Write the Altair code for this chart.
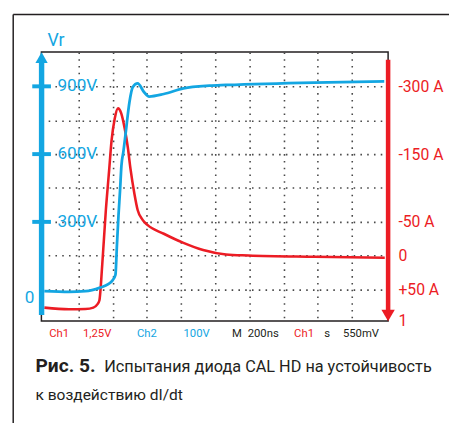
import altair as alt
import pandas as pd

# ---- data (time in ns, 200 ns/div) ----
blue_t = [0, 144, 241, 326, 374, 397, 416, 425, 434, 443, 451, 463, 475, 498, 517,
          546, 584, 613, 699, 814, 966, 1063, 1580, 1989]
blue_v = [-7, -10, -7, 9, 24, 39, 65, 200, 330, 439, 548, 613, 687, 830, 896,
          913, 874, 855, 866, 891, 903, 906, 917, 922]

red_t = [0, 144, 240, 287, 310, 322, 339, 360, 379, 393, 412, 431, 450, 470, 489,
         504, 527, 546, 575, 603, 699, 814, 929, 1063, 1195, 1580, 1992]
red_div = [0.47, 0.42, 0.43, 0.47, 0.565, 0.68, 1.75, 3.35, 4.51, 5.38, 6.05, 6.35,
           6.20, 5.76, 5.18, 4.57, 3.83, 3.35, 3.06, 2.91, 2.65, 2.38, 2.17, 2.04,
           2.01, 1.97, 1.94]

grid_t = [200, 400, 600, 800, 1000, 1200, 1400, 1600, 1800]
grid_v = [0, 150, 300, 450, 600, 750, 900]
blue_tick_v = [300, 600, 900]
blue_tick_labels = ["300V", "600V", "900V"]
blue_zero_label = ["0"]
red_tick_vals = [0.0725, 1, 2, 3, 5, 7]
red_tick_labels = ["1", "+50 A", "0", "-50 A", "-150 A", "-300 A"]

status_texts = ["Ch1", "1,25V", "Ch2", "100V", "M", "200ns", "Ch1", "s", "550mV"]
axis_title = "Vr"
caption_bold = "Рис. 5."
caption_rest = "Испытания диода CAL HD на устойчивость"
caption_line2 = "к воздействию dI/dt"

# ---- styles ----
BLUE = "#13a6e2"
RED = "#ec1c24"
DARK = "#231f20"
FONT = "Roboto"
W, H = 353, 274
X_DOMAIN = [-17.2, 2011.5]
BLUE_DOMAIN = [-139.2, 1052.2]
RED_DOMAIN = [0.0725, 8.0145]

xs = alt.Scale(domain=X_DOMAIN, nice=False, zero=False)
bys = alt.Scale(domain=BLUE_DOMAIN, nice=False, zero=False)
rys = alt.Scale(domain=RED_DOMAIN, nice=False, zero=False)

grid_style = dict(gridColor="#4a4a4a", gridDash=[1.6, 5.3], gridWidth=1.6, gridOpacity=1)
x_axis = alt.Axis(orient="bottom", values=grid_t, grid=True, labels=False, ticks=False,
                  domain=False, title=None, **grid_style)

red_expr = " : ".join(f"datum.value == {v} ? '{l}'" for v, l in zip(red_tick_vals, red_tick_labels)) + " : ''"

blue_df = pd.DataFrame({"t": blue_t, "v": blue_v})
red_df = pd.DataFrame({"t": red_t, "d": red_div})

red_line = alt.Chart(red_df).mark_line(color=RED, strokeWidth=2.6, interpolate="monotone").encode(
    x=alt.X("t:Q", scale=xs, axis=x_axis),
    y=alt.Y("d:Q", scale=rys, axis=alt.Axis(
        orient="right", values=red_tick_vals, grid=False, ticks=False, domain=False, title=None,
        labelExpr=red_expr, labelColor=RED, labelFont=FONT, labelFontSize=16, labelPadding=10,
        labelAlign="left", labelBaseline="middle", labelOverlap=False, labelBound=False,
        labelFlush=False)),
)

blue_line = alt.Chart(blue_df).mark_line(color=BLUE, strokeWidth=2.8, interpolate="monotone").encode(
    x=alt.X("t:Q", scale=xs, axis=x_axis),
    y=alt.Y("v:Q", scale=bys, axis=alt.Axis(
        orient="left", values=grid_v, grid=True, labels=False, ticks=False, domain=False,
        title=None, **grid_style)),
)

# blue vertical axis
blue_axis = alt.Chart(pd.DataFrame({"a": [0]})).mark_rule(color=BLUE, strokeWidth=5.5).encode(
    x=alt.value(0.2), y=alt.value(9), y2=alt.value(267.7))
blue_arrow = alt.Chart(pd.DataFrame({"a": [0]})).mark_point(
    shape="triangle-up", filled=True, size=156, color=BLUE, opacity=1).encode(
    x=alt.value(0.2), y=alt.value(5.7))

tick_df = pd.DataFrame({"v": blue_tick_v, "label": blue_tick_labels})
blue_ticks = alt.Chart(tick_df).mark_rule(color=BLUE, strokeWidth=4).encode(
    y=alt.Y("v:Q", scale=bys, axis=None), x=alt.value(-9.3), x2=alt.value(9.7))
blue_labels = alt.Chart(tick_df).mark_text(
    color=BLUE, font=FONT, fontSize=17.5, align="left", baseline="middle").encode(
    y=alt.Y("v:Q", scale=bys, axis=None), x=alt.value(16.3), text="label:N")
blue_zero = alt.Chart(pd.DataFrame({"v": [0], "label": blue_zero_label})).mark_text(
    color=BLUE, font=FONT, fontSize=17.5, align="center", baseline="middle", dy=8.5).encode(
    y=alt.Y("v:Q", scale=bys, axis=None), x=alt.value(-12), text="label:N")
vr_text = alt.Chart(pd.DataFrame({"s": [axis_title]})).mark_text(
    color=BLUE, font=FONT, fontSize=18, align="left", baseline="alphabetic").encode(
    x=alt.value(6.3), y=alt.value(-5.7), text="s:N")

# red vertical axis
red_axis = alt.Chart(pd.DataFrame({"a": [0]})).mark_rule(color=RED, strokeWidth=4.6).encode(
    x=alt.value(353), y=alt.value(8), y2=alt.value(264))
red_arrow = alt.Chart(pd.DataFrame({"a": [0]})).mark_point(
    shape="triangle-down", filled=True, size=185, color=RED, opacity=1).encode(
    x=alt.value(353), y=alt.value(268.4))

# outer frame
frame_top = alt.Chart(pd.DataFrame({"a": [0]})).mark_rule(color=DARK, strokeWidth=1.5).encode(
    x=alt.value(-28.7), x2=alt.value(430), y=alt.value(-38.2))
frame_left = alt.Chart(pd.DataFrame({"a": [0]})).mark_rule(color=DARK, strokeWidth=1.5).encode(
    x=alt.value(-28.7), y=alt.value(-38.2), y2=alt.value(380))

# status line
status_x = [8, 42.3, 97.3, 144.7, 194, 210, 257.3, 288, 307]
status_colors = [RED, RED, BLUE, BLUE, DARK, DARK, RED, DARK, DARK]
status_layers = []
for txt, sx, sc in zip(status_texts, status_x, status_colors):
    status_layers.append(
        alt.Chart(pd.DataFrame({"s": [txt]})).mark_text(
            color=sc, font=FONT, fontSize=11.5, align="left", baseline="alphabetic").encode(
            x=alt.value(sx), y=alt.value(290), text="s:N"))

# caption
cap1 = alt.Chart(pd.DataFrame({"s": [caption_bold]})).mark_text(
    color=DARK, font=FONT, fontSize=19.5, fontWeight="bold", align="left", baseline="alphabetic").encode(
    x=alt.value(-6), y=alt.value(326), text="s:N")
cap2 = alt.Chart(pd.DataFrame({"s": [caption_rest]})).mark_text(
    color=DARK, font=FONT, fontSize=16.55, align="left", baseline="alphabetic").encode(
    x=alt.value(64), y=alt.value(326), text="s:N")
cap3 = alt.Chart(pd.DataFrame({"s": [caption_line2]})).mark_text(
    color=DARK, font=FONT, fontSize=15.8, align="left", baseline="alphabetic").encode(
    x=alt.value(-6), y=alt.value(354), text="s:N")

chart = alt.layer(
    red_line, blue_line, blue_axis, blue_arrow, blue_ticks, blue_labels, blue_zero, vr_text,
    red_axis, red_arrow, frame_top, frame_left, *status_layers, cap1, cap2, cap3
).resolve_scale(y="independent").properties(
    width=W, height=H,
    autosize=alt.AutoSizeParams(type="none"),
    padding={"left": 34, "top": 41, "right": 62, "bottom": 100},
).configure_view(stroke=DARK, strokeWidth=1.5)

chart.save("out.html", embed_options={"renderer": "svg", "actions": False})
